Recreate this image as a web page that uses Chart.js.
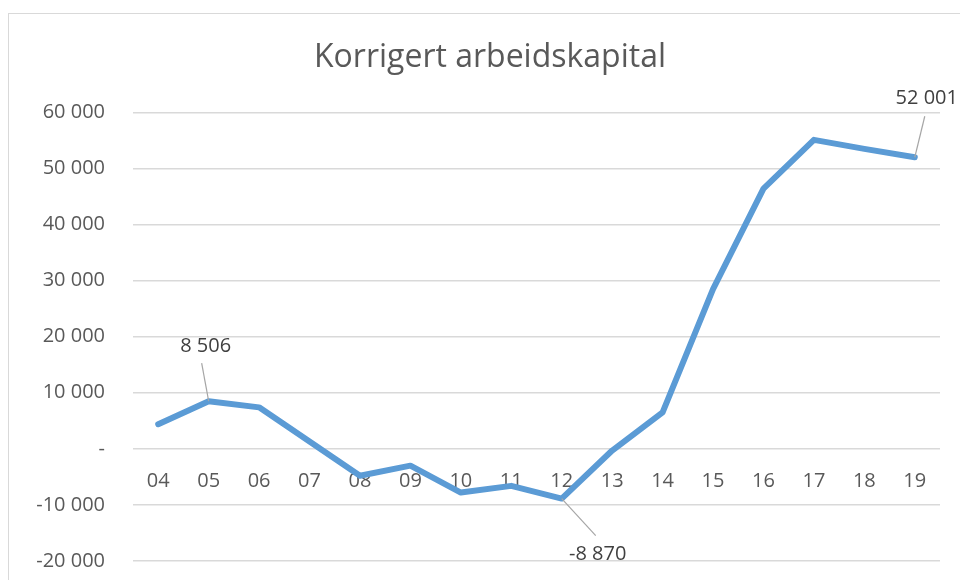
<!DOCTYPE html>
<html lang="no">
<head>
    <meta charset="UTF-8">
    <title>Korrigert arbeidskapital</title>
    <script src="https://cdn.jsdelivr.net/npm/chart.js"></script>
    <style>
        html, body { margin: 0; padding: 0; overflow: hidden; background: #fff; }
        .frame { position: absolute; left: 8px; top: 13px; width: 1200px; height: 1200px; border: 1px solid #d9d9d9; }
        .wrap { position: absolute; left: 0; top: 0; width: 960px; height: 580px; }
    </style>
</head>
<body>
    <div class="frame"></div>
    <div class="wrap"><canvas id="chart"></canvas></div>

    <script>
        // data
        const years = ["04", "05", "06", "07", "08", "09", "10", "11", "12", "13", "14", "15", "16", "17", "18", "19"];
        const values = [4400, 8506, 7400, 1300, -4800, -3000, -7800, -6600, -8870, -300, 6500, 28500, 46400, 55100, 53500, 52001];
        // which points get a data label
        const labelled = [1, 8, 15];

        const grey = "#595959";
        const font = "'Open Sans', sans-serif";

        function fmt(v) {
            if (v === 0) return "-";
            const s = Math.abs(v).toString().replace(/\B(?=(\d{3})+(?!\d))/g, " ");
            return (v < 0 ? "-" : "") + s;
        }

        // label placement relative to the point (px)
        const labelPos = {
            1: { tx: -3, ty: -55, lx: -7, ly: -38 },
            8: { tx: 36, ty: 56, lx: 34, ly: 37 },
            15: { tx: 12, ty: -59, lx: 10, ly: -41 }
        };

        const dataLabels = {
            id: "dataLabels",
            afterDatasetsDraw(chart) {
                const ctx = chart.ctx;
                const meta = chart.getDatasetMeta(0);
                ctx.save();
                labelled.forEach(i => {
                    const p = meta.data[i];
                    const o = labelPos[i];
                    ctx.strokeStyle = "#a6a6a6";
                    ctx.lineWidth = 1.2;
                    ctx.beginPath();
                    ctx.moveTo(p.x, p.y);
                    ctx.lineTo(p.x + o.lx, p.y + o.ly);
                    ctx.stroke();
                    ctx.fillStyle = "#404040";
                    ctx.font = "20px " + font;
                    ctx.textAlign = "center";
                    ctx.textBaseline = "middle";
                    ctx.fillText(fmt(values[i]), p.x + o.tx, p.y + o.ty);
                });
                ctx.restore();
            }
        };

        new Chart(document.getElementById("chart"), {
            type: "line",
            data: {
                labels: years,
                datasets: [{
                    label: "Korrigert arbeidskapital",
                    data: values,
                    borderColor: "#5b9bd5",
                    backgroundColor: "#5b9bd5",
                    borderWidth: 6,
                    borderJoinStyle: "round",
                    borderCapStyle: "round",
                    pointRadius: 0,
                    tension: 0,
                    fill: false
                }]
            },
            options: {
                responsive: true,
                maintainAspectRatio: false,
                animation: false,
                // left padding pushes the title centre to x=490 like the original
                layout: { padding: { left: 40, right: 20, top: 0, bottom: 19 } },
                plugins: {
                    legend: { display: false },
                    tooltip: { enabled: false },
                    title: {
                        display: true,
                        text: "Korrigert arbeidskapital",
                        color: grey,
                        font: { family: font, size: 32, weight: "normal" },
                        padding: { top: 39, bottom: 35 }
                    }
                },
                scales: {
                    x: {
                        position: { y: 0 },
                        offset: true,
                        afterFit: scale => { scale.height = 0; },
                        grid: { display: false, drawTicks: false },
                        border: { display: false },
                        ticks: { color: grey, font: { family: font, size: 20 }, padding: 20, maxRotation: 0 }
                    },
                    y: {
                        min: -20000,
                        max: 60000,
                        afterFit: scale => {
                            scale.width = 93;
                            scale.paddingTop = 0;
                            scale.paddingBottom = 0;
                            // labels are wider than the axis box, don't clip them
                            scale._computeLabelArea = () => undefined;
                        },
                        grid: { color: "#d9d9d9", lineWidth: 1.5, drawTicks: false },
                        border: { display: false },
                        ticks: {
                            stepSize: 10000,
                            color: grey,
                            padding: 28,
                            font: { family: font, size: 20 },
                            callback: v => fmt(v)
                        }
                    }
                }
            },
            plugins: [dataLabels]
        });
    </script>
</body>
</html>
